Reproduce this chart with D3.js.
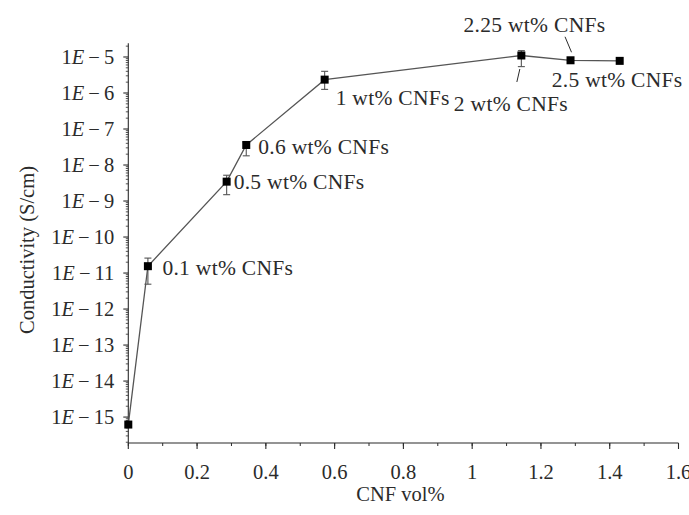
<!DOCTYPE html>
<html>
<head>
<meta charset="utf-8">
<script src="https://cdn.jsdelivr.net/npm/d3@7"></script>
<style>
  html, body { margin: 0; padding: 0; background: #fff; }
  svg { display: block; }
  svg text { font-family: 'Liberation Serif', Tinos, 'Times New Roman', Times, 'DejaVu Serif', serif; fill: #2b2b2b; }
</style>
</head>
<body>
<svg id="chart" width="689" height="515"></svg>
<script>
// ---- data ----
const cnfVol = [0, 0.057, 0.286, 0.343, 0.571, 1.143, 1.286, 1.429];
const conductivity = [6.2e-16, 1.55e-11, 3.45e-9, 3.6e-8, 2.35e-6, 1.1e-5, 8.1e-6, 7.8e-6];
const errUpper = [null, 2.6e-11, 5.2e-9, 4.3e-8, 4.0e-6, 1.5e-5, null, null];
const errLower = [null, 4.9e-12, 1.5e-9, 1.8e-8, 1.26e-6, 5.4e-6, null, null];
const pointLabels = [null, "0.1 wt% CNFs", "0.5 wt% CNFs", "0.6 wt% CNFs", "1 wt% CNFs", "2 wt% CNFs", "2.25 wt% CNFs", "2.5 wt% CNFs"];
const xTicks = [0, 0.2, 0.4, 0.6, 0.8, 1, 1.2, 1.4, 1.6];
const xTickLabels = ["0", "0.2", "0.4", "0.6", "0.8", "1", "1.2", "1.4", "1.6"];
const yTickExponents = [-5, -6, -7, -8, -9, -10, -11, -12, -13, -14, -15];
const xTitle = "CNF vol%";
const yTitle = "Conductivity (S/cm)";

// ---- layout (pixel offsets of annotations relative to their point) ----
const labelOffsets = [null, [14.5, 9], [7, 7.5], [12, 9.5], [11, 25], [-67.5, 56], [-107, -28.5], [-68, 26]];
const leaders = [null, null, null, null, null, [[-1.5, 13.5], [-4.5, 26.5]], [[-5.5, -23.5], [1, -8]], null];

const FONT = "'Liberation Serif', Tinos, 'Times New Roman', Times, 'DejaVu Serif', serif";
const svg = d3.select("#chart").attr("font-family", FONT);
const ink = "#2b2b2b";
const lineCol = "#555";
const fs = 20.5;
const fsLab = 21.5;

const x = d3.scaleLinear().domain([0, 1.6]).range([128.3, 678.5]);
const y = d3.scaleLog().domain([Math.pow(10, -15.72), Math.pow(10, -4.62)]).range([443, 43.3]);

// ---- axes ----
const xAxisG = svg.append("g").attr("transform", `translate(0,${y.range()[0]})`);
xAxisG.append("line").attr("x1", x(0)).attr("x2", x(1.6)).attr("stroke", ink).attr("stroke-width", 1.1);
const xMinor = d3.range(0, 1.61, 0.1).map(v => +v.toFixed(2));
xAxisG.selectAll(".xminor").data(xMinor).join("line")
  .attr("x1", d => x(d)).attr("x2", d => x(d)).attr("y1", 0).attr("y2", 3)
  .attr("stroke", ink).attr("stroke-width", 1);
xAxisG.selectAll(".xmajor").data(xTicks).join("line")
  .attr("x1", d => x(d)).attr("x2", d => x(d)).attr("y1", 0).attr("y2", 6)
  .attr("stroke", ink).attr("stroke-width", 1.1);
xAxisG.selectAll(".xlab").data(xTicks).join("text")
  .attr("x", d => x(d)).attr("y", 35.5).attr("text-anchor", "middle")
  .attr("font-family", FONT).attr("font-size", fs).text((d, i) => xTickLabels[i]);

const yAxisG = svg.append("g").attr("transform", `translate(${x(0)},0)`);
yAxisG.append("line").attr("y1", y.range()[0]).attr("y2", y.range()[1]).attr("stroke", ink).attr("stroke-width", 1.1);
const yMinor = [];
for (let e = -16; e <= -5; e++) for (let m = 2; m <= 9; m++) {
  const v = m * Math.pow(10, e);
  if (v > y.domain()[0] && v < y.domain()[1]) yMinor.push(v);
}
yAxisG.selectAll(".yminor").data(yMinor).join("line")
  .attr("x1", -2.5).attr("x2", 0).attr("y1", d => y(d)).attr("y2", d => y(d))
  .attr("stroke", ink).attr("stroke-width", 0.8);
yAxisG.selectAll(".ymajor").data(yTickExponents).join("line")
  .attr("x1", -5).attr("x2", 0).attr("y1", d => y(Math.pow(10, d))).attr("y2", d => y(Math.pow(10, d)))
  .attr("stroke", ink).attr("stroke-width", 1.1);
const yl = yAxisG.selectAll(".ylab").data(yTickExponents).join("text")
  .attr("x", -14).attr("y", d => y(Math.pow(10, d))).attr("dy", "0.33em")
  .attr("text-anchor", "end").attr("font-family", FONT).attr("font-size", fs);
yl.append("tspan").text("1");
yl.append("tspan").attr("font-style", "italic").text("E");
yl.append("tspan").text(d => "\u2009\u2212\u2009" + Math.abs(d));

svg.append("text").attr("x", x(0.8) - 3).attr("y", 501).attr("text-anchor", "middle")
  .attr("font-family", FONT).attr("font-size", fs).text(xTitle);
svg.append("text").attr("transform", `translate(34,250) rotate(-90)`).attr("text-anchor", "middle")
  .attr("font-family", FONT).attr("font-size", fs).text(yTitle);

// ---- data line ----
const pts = cnfVol.map((v, i) => ({ v, c: conductivity[i], hi: errUpper[i], lo: errLower[i], lab: pointLabels[i], i }));
svg.append("path").datum(pts)
  .attr("d", d3.line().x(d => x(d.v)).y(d => y(d.c)))
  .attr("fill", "none").attr("stroke", lineCol).attr("stroke-width", 1.3);

// error bars
const eb = svg.selectAll(".eb").data(pts.filter(d => d.hi !== null)).join("g");
eb.append("line").attr("x1", d => x(d.v)).attr("x2", d => x(d.v))
  .attr("y1", d => y(d.hi)).attr("y2", d => y(d.lo)).attr("stroke", lineCol).attr("stroke-width", 1.1);
eb.append("line").attr("x1", d => x(d.v) - 3.5).attr("x2", d => x(d.v) + 3.5)
  .attr("y1", d => y(d.hi)).attr("y2", d => y(d.hi)).attr("stroke", lineCol).attr("stroke-width", 1.1);
eb.append("line").attr("x1", d => x(d.v) - 3.5).attr("x2", d => x(d.v) + 3.5)
  .attr("y1", d => y(d.lo)).attr("y2", d => y(d.lo)).attr("stroke", lineCol).attr("stroke-width", 1.1);

// markers
svg.selectAll(".pt").data(pts).join("rect")
  .attr("x", d => x(d.v) - 4).attr("y", d => y(d.c) - 4)
  .attr("width", 8).attr("height", 8).attr("fill", "#000");

// annotations
svg.selectAll(".lab").data(pts.filter(d => d.lab)).join("text")
  .attr("x", d => x(d.v) + labelOffsets[d.i][0]).attr("y", d => y(d.c) + labelOffsets[d.i][1])
  .attr("font-family", FONT).attr("font-size", fsLab).attr("letter-spacing", 0.3).text(d => d.lab);
svg.selectAll(".leader").data(pts.filter(d => leaders[d.i])).join("line")
  .attr("x1", d => x(d.v) + leaders[d.i][0][0]).attr("y1", d => y(d.c) + leaders[d.i][0][1])
  .attr("x2", d => x(d.v) + leaders[d.i][1][0]).attr("y2", d => y(d.c) + leaders[d.i][1][1])
  .attr("stroke", ink).attr("stroke-width", 1);
</script>
</body>
</html>
